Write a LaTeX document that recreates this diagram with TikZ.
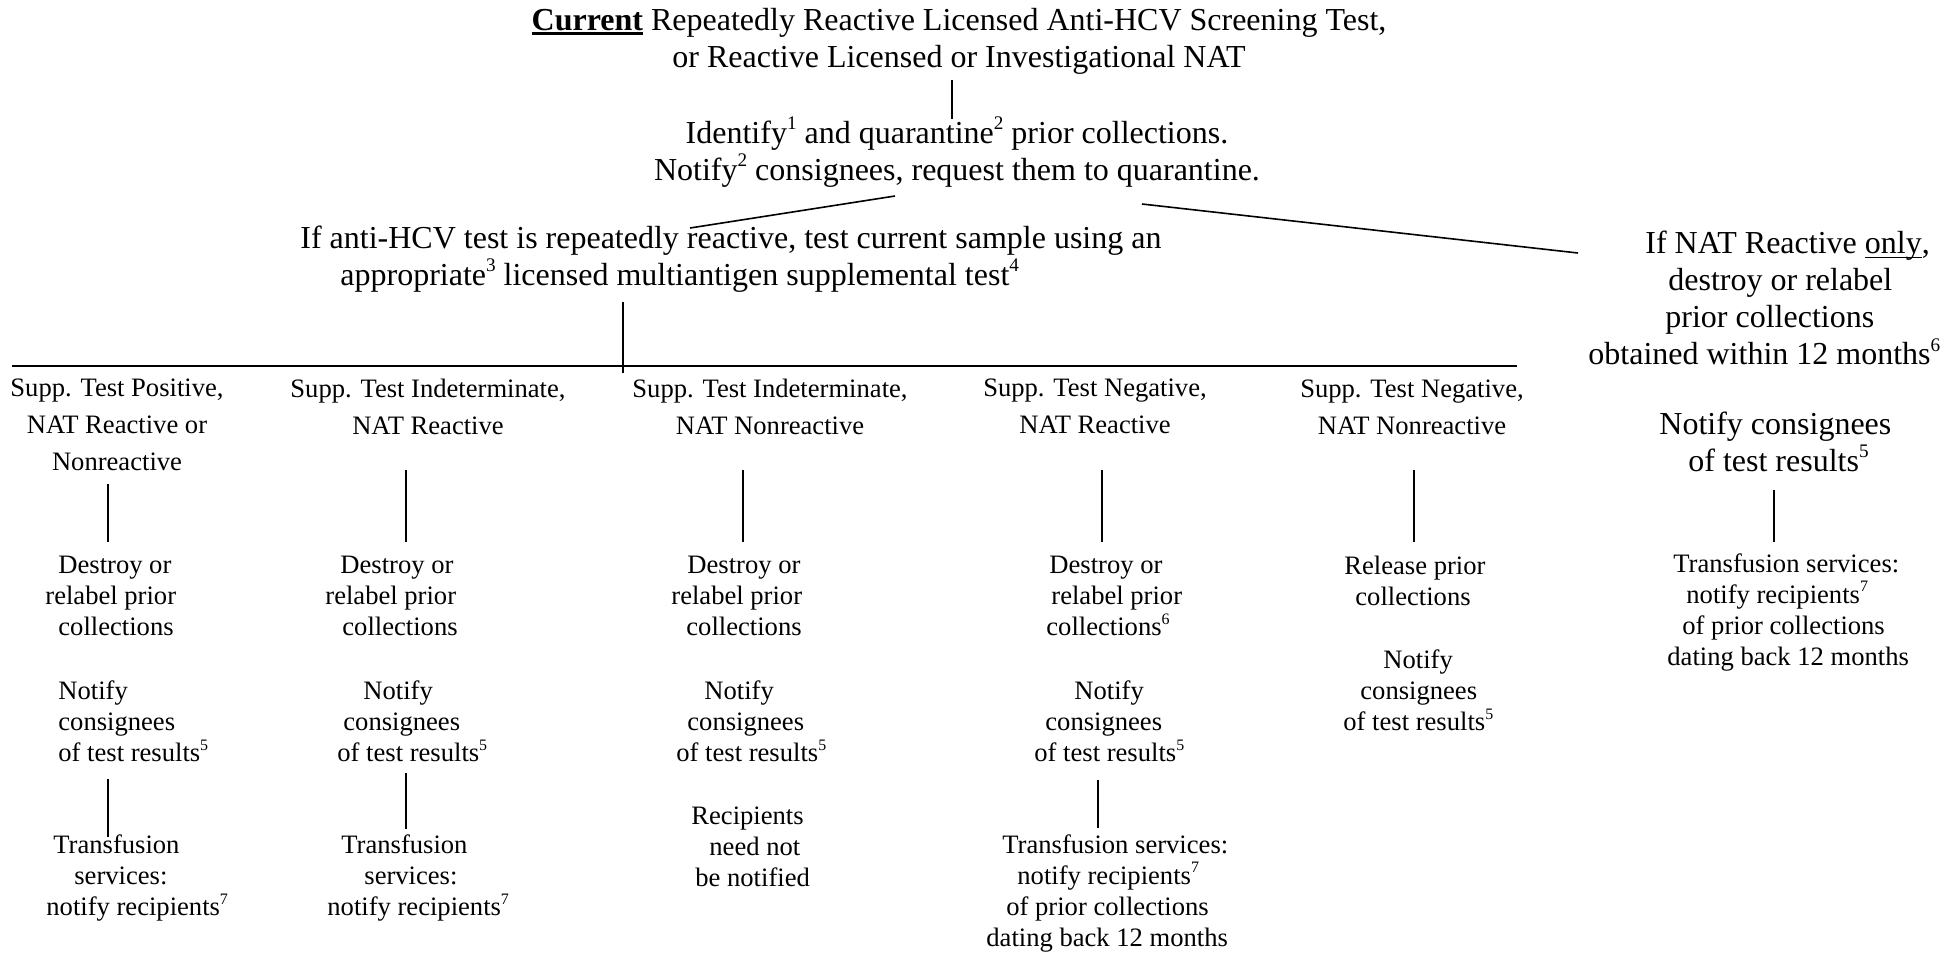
\documentclass[tikz,border=0pt]{standalone}
\usepackage{fontspec}
\usepackage{graphicx}
\setmainfont{Liberation Serif}
\newcommand\myul[2][0.7pt]{\leavevmode\setbox0\hbox{#2}\rlap{\rule[-2.2pt]{\wd0}{#1}}\box0\relax}
\newcommand\sps[1]{\raisebox{0.42em}{\scalebox{0.6}{#1}}}
\begin{document}
\begin{tikzpicture}[x=0.5pt,y=-0.5pt,
  big/.style={font=\fontsize{16}{18.5}\selectfont, inner sep=0pt, align=center},
  bigl/.style={font=\fontsize{16}{18.5}\selectfont, inner sep=0pt, align=left, anchor=west},
  hdr/.style={font=\fontsize{13.3}{18.5}\selectfont, inner sep=0pt, align=center},
  body/.style={font=\fontsize{13.3}{15.5}\selectfont, inner sep=0pt, align=left, anchor=west},
  conn/.style={line width=0.8pt}]
\useasboundingbox (0,0) rectangle (1960,955);
% top
\node[big] (title) at (959,41) {\myul[1.1pt]{\textbf{Current}}\ Repeatedly Reactive Licensed Anti-HCV Screening Test,\\or Reactive Licensed or Investigational NAT};
\node[big] (ident) at (957,152) {Identify\sps{1} and quarantine\sps{2} prior collections.\\Notify\sps{2} consignees, request them to quarantine.};
\node[bigl] (anti) at (300,259) {If anti-HCV test is repeatedly reactive, test current sample using an\\\hspace*{20pt}appropriate\sps{3} licensed multiantigen supplemental test\sps{4}};
\node[bigl] (nat) at (1588,298) {\hspace*{28.5pt}If NAT Reactive \myul{only},\\\hspace*{40pt}destroy or relabel\\\hspace*{38.5pt}prior collections\\obtained within 12 months\sps{6}};
\node[bigl] (natn) at (1659,441.5) {Notify consignees\\\hspace*{14.5pt}of test results\sps{5}};
\node[body] (natt) at (1667,612) {\hspace*{3pt}Transfusion services:\\\hspace*{9.5pt}notify recipients\sps{7}\\\hspace*{7.5pt}of prior collections\\dating back 12 months};
% headers
\node[hdr] (h1) at (117,425) {Supp. Test Positive,\\NAT Reactive or\\Nonreactive};
\node[hdr] (h2) at (428,406.5) {Supp. Test Indeterminate,\\NAT Reactive};
\node[hdr] (h3) at (770,406.5) {Supp. Test Indeterminate,\\NAT Nonreactive};
\node[hdr] (h4) at (1095,406.5) {Supp. Test Negative,\\NAT Reactive};
\node[hdr] (h5) at (1412,407) {Supp. Test Negative,\\NAT Nonreactive};
% destroy
\node[body] (d1) at (45,596) {\hspace*{6.5pt}Destroy or\\relabel prior\\\hspace*{6.5pt}collections};
\node[body] (d2) at (325,596) {\hspace*{7.5pt}Destroy or\\relabel prior\\\hspace*{8.5pt}collections};
\node[body] (d3) at (671,596) {\hspace*{8pt}Destroy or\\relabel prior\\\hspace*{7.5pt}collections};
\node[body] (d4) at (1046,596) {\hspace*{1.5pt}Destroy or\\\hspace*{2.5pt}relabel prior\\collections\sps{6}};
\node[body] (d5) at (1344,580.5) {Release prior\\\hspace*{5.5pt}collections};
% notify
\node[body] (n1) at (58,721) {Notify\\consignees\\of test results\sps{5}};
\node[body] (n2) at (337,721) {\hspace*{13pt}Notify\\\hspace*{3pt}consignees\\of test results\sps{5}};
\node[body] (n3) at (676,721) {\hspace*{14pt}Notify\\\hspace*{5.5pt}consignees\\of test results\sps{5}};
\node[body] (n4) at (1034,721) {\hspace*{20pt}Notify\\\hspace*{5.5pt}consignees\\of test results\sps{5}};
\node[body] (n5) at (1343,690) {\hspace*{20pt}Notify\\\hspace*{8.5pt}consignees\\of test results\sps{5}};
% bottom
\node[body] (r3) at (691,847) {Recipients\\\hspace*{9pt}need not\\\hspace*{2pt}be notified};
\node[body] (t1) at (46,878) {\hspace*{3.5pt}Transfusion\\\hspace*{14pt}services:\\notify recipients\sps{7}};
\node[body] (t2) at (327,878) {\hspace*{7pt}Transfusion\\\hspace*{18.5pt}services:\\notify recipients\sps{7}};
\node[body] (t4) at (986,893) {\hspace*{8pt}Transfusion services:\\\hspace*{15.5pt}notify recipients\sps{7}\\\hspace*{10pt}of prior collections\\dating back 12 months};
% connector end points
\coordinate (a0) at (952,80);   \coordinate (a1) at (952,119);
\coordinate (b0) at (895,196);  \coordinate (b1) at (690,228);
\coordinate (c0) at (1142,204); \coordinate (c1) at (1578,253);
\coordinate (e0) at (623,302);  \coordinate (e1) at (623,373);
\coordinate (hl) at (12,366);   \coordinate (hr) at (1517,366);
\coordinate (v1a) at (108,484); \coordinate (v1b) at (108,542);
\coordinate (v2a) at (406,470); \coordinate (v2b) at (406,542);
\coordinate (v3a) at (743,470); \coordinate (v3b) at (743,542);
\coordinate (v4a) at (1102,470); \coordinate (v4b) at (1102,542);
\coordinate (v5a) at (1414,470); \coordinate (v5b) at (1414,542);
\coordinate (w1a) at (108,779); \coordinate (w1b) at (108,837);
\coordinate (w2a) at (406,773); \coordinate (w2b) at (406,829);
\coordinate (w4a) at (1098,780); \coordinate (w4b) at (1098,828);
\coordinate (ra) at (1774,490); \coordinate (rb) at (1774,542);
\draw[conn] (a0) -- (a1);
\draw[conn] (b0) -- (b1);
\draw[conn] (c0) -- (c1);
\draw[conn] (e0) -- (e1);
\draw[conn] (hl) -- (hr);
\draw[conn] (v1a) -- (v1b);
\draw[conn] (v2a) -- (v2b);
\draw[conn] (v3a) -- (v3b);
\draw[conn] (v4a) -- (v4b);
\draw[conn] (v5a) -- (v5b);
\draw[conn] (w1a) -- (w1b);
\draw[conn] (w2a) -- (w2b);
\draw[conn] (w4a) -- (w4b);
\draw[conn] (ra) -- (rb);
\end{tikzpicture}
\end{document}
